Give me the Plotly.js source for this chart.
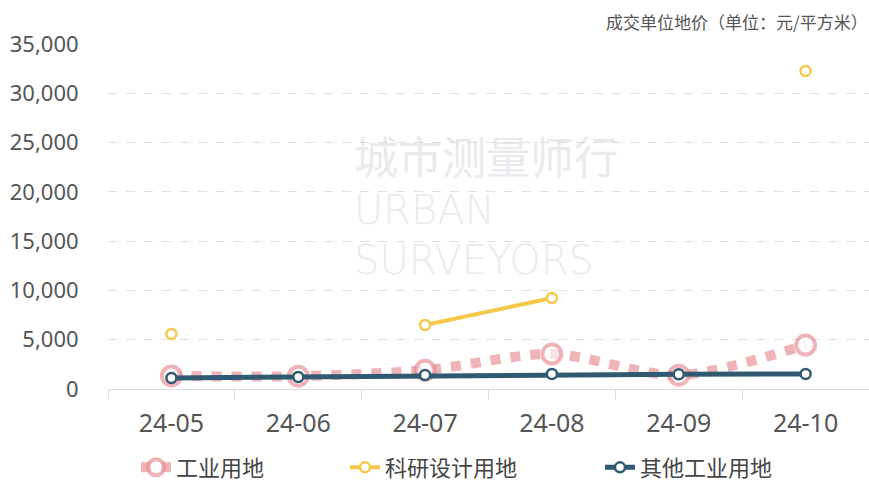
<!DOCTYPE html>
<html><head><meta charset="utf-8">
<script src="https://cdn.plot.ly/plotly-3.0.1.min.js"></script>
<style>html,body{margin:0;padding:0;background:#fff}#c{width:869px;height:485px}</style>
</head><body><div id="c"></div>
<script>
const categories = ["24-05","24-06","24-07","24-08","24-09","24-10"];
const industrial = [1320, 1300, 1900, 3550, 1400, 4460];
const research = [5580, null, 6490, 9230, null, 32260];
const otherIndustrial = [1120, 1220, 1420, 1520, 1500, 1520];
const seriesNames = ["工业用地","科研设计用地","其他工业用地"];
const yTicks = [0,5000,10000,15000,20000,25000,30000,35000];
const yTickText = ["0","5,000","10,000","15,000","20,000","25,000","30,000","35,000"];

const cjk = "Noto Sans CJK SC, sans-serif";
const num = "Noto Sans, Noto Sans CJK SC, sans-serif";
const wm = "rgba(205,208,216,0.45)";
const traces = [
  {x: categories, y: industrial, name: seriesNames[0], type: "scatter", mode: "lines+markers", legend: "legend",
   line: {color: "rgba(226,130,136,0.6)", width: 10, dash: "dot", shape: "spline", smoothing: 0.8},
   marker: {size: 19, color: "rgba(255,255,255,0.6)", line: {color: "rgba(226,130,136,0.6)", width: 4}}},
  {x: categories, y: research, name: seriesNames[1], type: "scatter", mode: "lines+markers", legend: "legend2",
   connectgaps: false,
   line: {color: "#f4c84a", width: 4},
   marker: {size: 10, color: "#fff", line: {color: "#f4c84a", width: 2.5}}},
  {x: categories, y: otherIndustrial, name: seriesNames[2], type: "scatter", mode: "lines+markers", legend: "legend3",
   line: {color: "#2f5a72", width: 5},
   marker: {size: 10, color: "#fff", line: {color: "#2f5a72", width: 2.5}}}
];
const legBase = {orientation: "h", xanchor: "left", yref: "container", y: 0.036, yanchor: "middle",
                 font: {size: 22, color: "#444", family: cjk}, bgcolor: "rgba(0,0,0,0)"};
const layout = {
  width: 869, height: 485,
  margin: {l: 108, r: 0, t: 44, b: 96, autoexpand: false},
  paper_bgcolor: "#fff", plot_bgcolor: "#fff",
  font: {family: num, color: "#555", size: 18},
  showlegend: true,
  legend: Object.assign({}, legBase, {x: 0.0368}),
  legend2: Object.assign({}, legBase, {x: 0.3114}),
  legend3: Object.assign({}, legBase, {x: 0.6465}),
  xaxis: {type: "category", range: [-0.5, 5.5], showgrid: false, zeroline: false,
          showline: true, linecolor: "#ddd", linewidth: 1,
          ticks: "outside", tickson: "boundaries", ticklen: 10, tickcolor: "#ddd",
          ticklabelstandoff: 12, automargin: false,
          tickfont: {size: 25, color: "#555", family: num}, fixedrange: true},
  yaxis: {range: [0, 35000], tickvals: yTicks, ticktext: yTickText, showgrid: true,
          gridcolor: "#e0e0e0", griddash: "dash", gridwidth: 1, zeroline: false,
          ticks: "outside", ticklen: 24, tickcolor: "rgba(0,0,0,0)", automargin: false,
          tickfont: {size: 22, color: "#555", family: num}, showline: false},
  annotations: [
    {text: "成交单位地价（单位：元/平方米）", xref: "paper", yref: "paper", x: 1, y: 1, xanchor: "right",
     yanchor: "bottom", yshift: 9, xshift: 0, borderpad: 0, showarrow: false, font: {size: 17, color: "#555", family: cjk}},
    {text: "城市测量师行", xref: "paper", yref: "paper", x: 0.3206, y: 0.678, xanchor: "left", yanchor: "middle",
     showarrow: false, font: {size: 44, color: wm, family: cjk}},
    {text: "URBAN", xref: "paper", yref: "paper", x: 0.3206, y: 0.52, xanchor: "left", yanchor: "middle",
     showarrow: false, font: {size: 40, color: wm, family: "DejaVu Sans", weight: 200}},
    {text: "SURVEYORS", xref: "paper", yref: "paper", x: 0.3206, y: 0.375, xanchor: "left", yanchor: "middle",
     showarrow: false, font: {size: 40, color: wm, family: "DejaVu Sans", weight: 200}}
  ]
};
Plotly.newPlot("c", traces, layout, {displayModeBar: false, staticPlot: true});
</script></body></html>
